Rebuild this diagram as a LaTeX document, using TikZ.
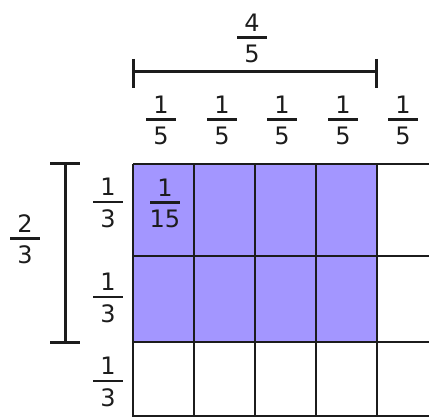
\documentclass[tikz,border=0pt]{standalone}
\usepackage{fontspec}
\setmainfont{DejaVu Sans}
\usetikzlibrary{positioning}
\definecolor{lavender}{RGB}{163,150,255}
\definecolor{inkgray}{RGB}{28,28,28}
\newcommand{\frc}[2]{\vbox{\offinterlineskip\halign{\hfil##\hfil\cr #1\cr\noalign{\kern5pt}\rule{30pt}{2.5pt}\cr\noalign{\kern6pt}#2\cr}}}

\begin{document}
\begin{tikzpicture}[x=1pt,y=-1pt,
  frac/.style={inner sep=0pt,text=inkgray,font=\fontsize{24}{28}\selectfont},
  gridline/.style={line width=2.5pt,draw=inkgray},
  bar/.style={line width=3pt,draw=inkgray}]
\useasboundingbox (0,0) rectangle (429,417);
% shaded part: 4/5 of 2/3
\fill[lavender] (133,164) rectangle (377,342);
\begin{scope}
\clip (0,0) rectangle (429,417);
\foreach \x in {133,194,255,316,377,438} \draw[gridline] (\x,164) -- (\x,420);
\foreach \y in {164,256,342,416} \draw[gridline] (133,\y) -- (440,\y);
\end{scope}
% brackets
\draw[bar] (133,72) -- (376,72);
\draw[bar] (133,59) -- (133,88);
\draw[bar] (376,59) -- (376,88);
\draw[bar] (65,164) -- (65,342);
\draw[bar] (50,164) -- (80,164);
\draw[bar] (50,342) -- (80,342);
% labels
\node[frac] (four) at (252,38) {\frc{4}{5}};
\foreach \x [count=\i] in {161,222,282,343,403}
  \node[frac] (fifth\i) at (\x,120) {\frc{1}{5}};
\node[frac] (two) at (25,239) {\frc{2}{3}};
\foreach \y [count=\i] in {203,298,382}
  \node[frac] (third\i) at (108,\y) {\frc{1}{3}};
\node[frac] (cell) at (165,203) {\frc{1}{15}};
\end{tikzpicture}
\end{document}
